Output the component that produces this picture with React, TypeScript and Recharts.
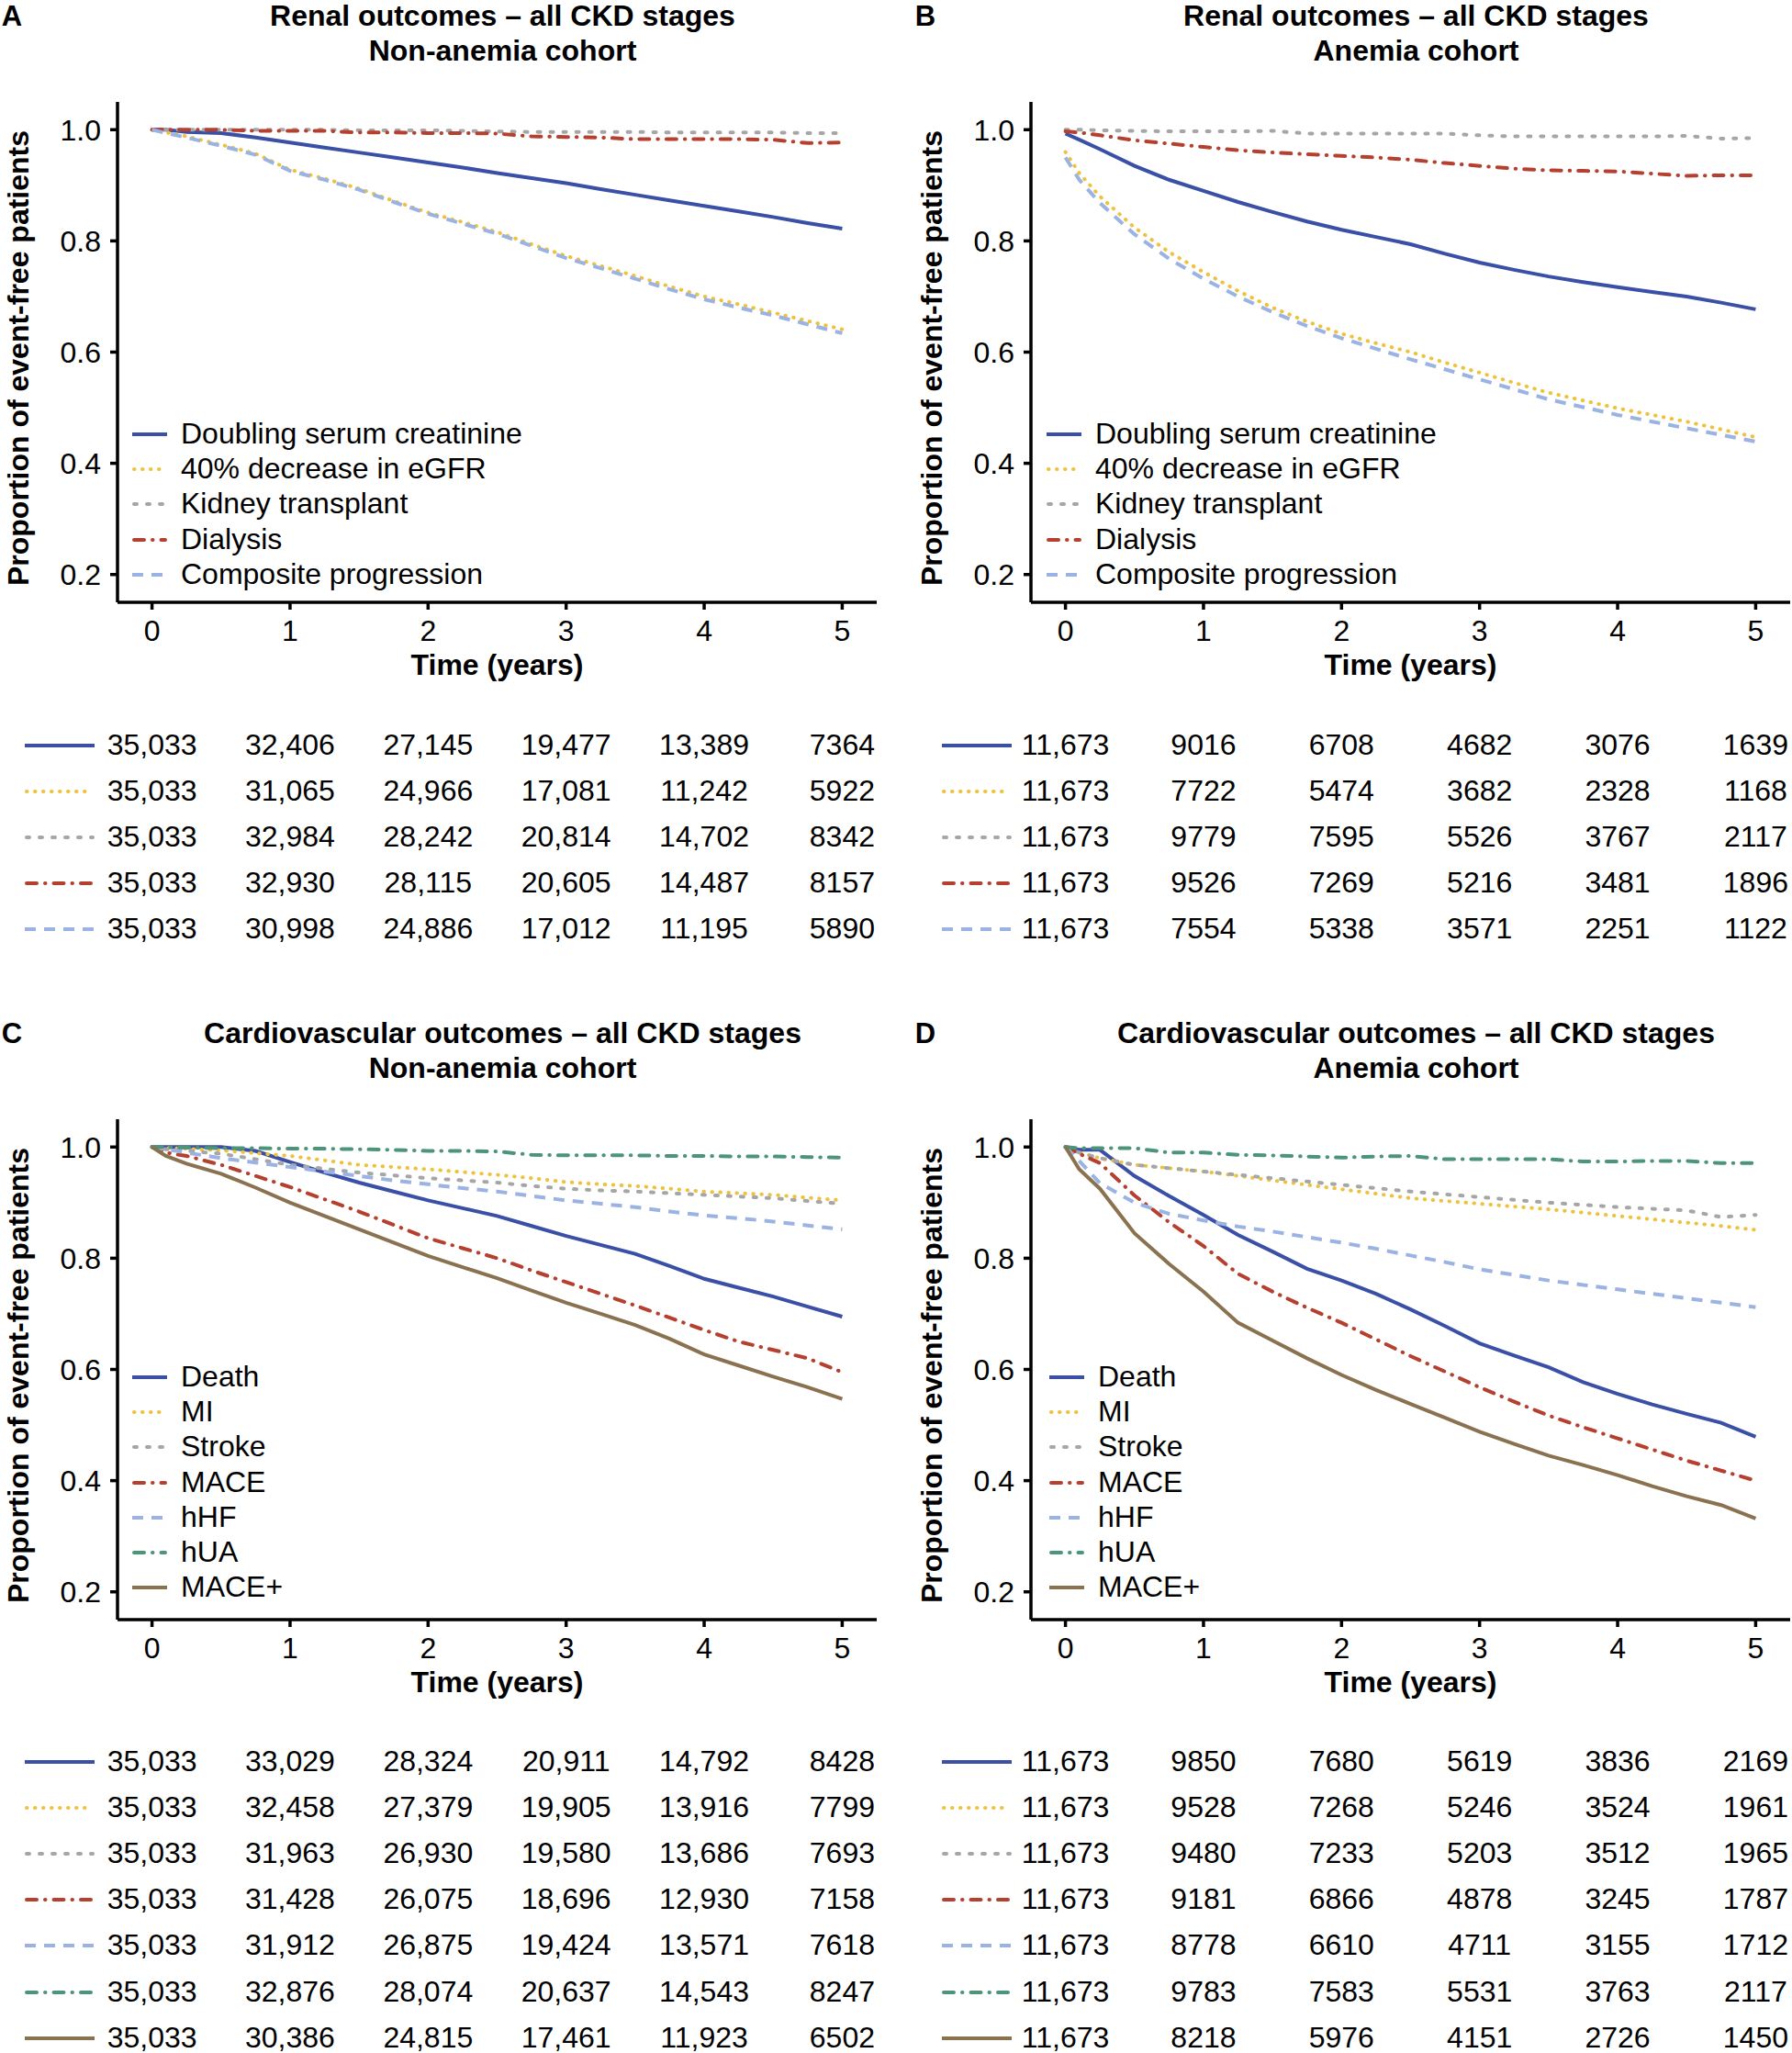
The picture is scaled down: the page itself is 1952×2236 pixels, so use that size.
import { LineChart, Line, XAxis, YAxis } from 'recharts'

const FONT = '"Liberation Sans", Arial, Helvetica, sans-serif'

// common time grid (years) at which the KM curves were read
const timeGrid = [0, 0.1, 0.25, 0.5, 0.75, 1, 1.25, 1.5, 1.75, 2, 2.25, 2.5, 2.75, 3, 3.25, 3.5, 3.75, 4, 4.25, 4.5, 4.75, 5]
const xTicks = [0, 1, 2, 3, 4, 5]
const yTicks = [0.2, 0.4, 0.6, 0.8, 1.0]

const renalLabels = ['Doubling serum creatinine', '40% decrease in eGFR', 'Kidney transplant', 'Dialysis', 'Composite progression']
const cvLabels = ['Death', 'MI', 'Stroke', 'MACE', 'hHF', 'hUA', 'MACE+']

// A - renal, non-anemia
const aDoubling = [1.0, 1.0, 0.996, 0.994, 0.986, 0.977, 0.968, 0.959, 0.95, 0.941, 0.932, 0.922, 0.913, 0.904, 0.893, 0.883, 0.873, 0.863, 0.853, 0.843, 0.832, 0.822]
const aEgfr = [1.0, 0.995, 0.988, 0.973, 0.957, 0.928, 0.912, 0.894, 0.872, 0.851, 0.834, 0.816, 0.794, 0.773, 0.755, 0.737, 0.718, 0.7, 0.686, 0.671, 0.656, 0.641]
const aTransplant = [1, 1, 1, 1, 1, 1, 1, 0.999, 0.999, 0.999, 0.998, 0.997, 0.996, 0.996, 0.996, 0.996, 0.995, 0.995, 0.995, 0.995, 0.994, 0.994]
const aDialysis = [1, 1, 1, 1, 0.998, 0.998, 0.998, 0.995, 0.995, 0.994, 0.994, 0.993, 0.988, 0.987, 0.986, 0.983, 0.983, 0.983, 0.983, 0.982, 0.976, 0.977]
const aComposite = [1.0, 0.994, 0.986, 0.971, 0.955, 0.926, 0.91, 0.892, 0.87, 0.849, 0.831, 0.813, 0.791, 0.769, 0.751, 0.732, 0.713, 0.695, 0.68, 0.666, 0.65, 0.634]

// B - renal, anemia
const bDoubling = [0.993, 0.982, 0.965, 0.935, 0.91, 0.89, 0.87, 0.852, 0.835, 0.82, 0.807, 0.794, 0.777, 0.761, 0.748, 0.736, 0.726, 0.717, 0.708, 0.7, 0.689, 0.677]
const bEgfr = [0.96, 0.922, 0.88, 0.824, 0.78, 0.744, 0.71, 0.68, 0.655, 0.633, 0.616, 0.6, 0.581, 0.563, 0.545, 0.527, 0.513, 0.499, 0.487, 0.475, 0.461, 0.447]
const bTransplant = [1.0, 1.0, 0.999, 0.998, 0.997, 0.997, 0.997, 0.998, 0.993, 0.993, 0.993, 0.993, 0.993, 0.99, 0.988, 0.988, 0.988, 0.988, 0.988, 0.989, 0.984, 0.985]
const bDialysis = [0.997, 0.995, 0.99, 0.981, 0.975, 0.969, 0.963, 0.959, 0.956, 0.953, 0.95, 0.946, 0.94, 0.935, 0.93, 0.927, 0.926, 0.925, 0.921, 0.917, 0.918, 0.918]
const bComposite = [0.95, 0.91, 0.868, 0.812, 0.768, 0.732, 0.7, 0.672, 0.647, 0.625, 0.606, 0.587, 0.569, 0.551, 0.533, 0.515, 0.501, 0.487, 0.475, 0.463, 0.451, 0.439]

// C - cardiovascular, non-anemia
const cDeath = [1.0, 1.0, 1.0, 1.0, 0.993, 0.973, 0.954, 0.936, 0.92, 0.904, 0.89, 0.876, 0.858, 0.84, 0.824, 0.808, 0.786, 0.763, 0.747, 0.731, 0.713, 0.695]
const cMi = [1.0, 0.998, 0.997, 0.994, 0.989, 0.984, 0.976, 0.968, 0.964, 0.96, 0.955, 0.95, 0.944, 0.937, 0.933, 0.93, 0.925, 0.92, 0.917, 0.914, 0.909, 0.904]
const cStroke = [1.0, 0.996, 0.993, 0.988, 0.978, 0.968, 0.961, 0.954, 0.949, 0.944, 0.94, 0.936, 0.93, 0.925, 0.922, 0.92, 0.917, 0.914, 0.911, 0.908, 0.903, 0.898]
const cMace = [1.0, 0.99, 0.984, 0.968, 0.948, 0.928, 0.906, 0.884, 0.86, 0.836, 0.818, 0.8, 0.778, 0.757, 0.736, 0.715, 0.693, 0.671, 0.65, 0.635, 0.62, 0.595]
const cHhf = [1.0, 0.996, 0.99, 0.98, 0.972, 0.964, 0.956, 0.948, 0.94, 0.933, 0.926, 0.92, 0.912, 0.904, 0.898, 0.892, 0.884, 0.877, 0.872, 0.866, 0.859, 0.852]
const cHua = [1.0, 1.0, 0.999, 0.998, 0.998, 0.997, 0.997, 0.996, 0.995, 0.993, 0.993, 0.992, 0.986, 0.985, 0.985, 0.985, 0.984, 0.984, 0.983, 0.983, 0.982, 0.981]
const cMacePlus = [1.0, 0.984, 0.97, 0.952, 0.927, 0.9, 0.876, 0.852, 0.828, 0.804, 0.784, 0.764, 0.742, 0.72, 0.7, 0.68, 0.655, 0.627, 0.607, 0.587, 0.568, 0.547]

// D - cardiovascular, anemia
const dDeath = [1.0, 0.995, 0.995, 0.948, 0.912, 0.878, 0.842, 0.812, 0.781, 0.76, 0.736, 0.708, 0.678, 0.647, 0.625, 0.604, 0.577, 0.556, 0.537, 0.52, 0.504, 0.479]
const dMi = [1.0, 0.99, 0.98, 0.968, 0.962, 0.956, 0.948, 0.94, 0.932, 0.924, 0.916, 0.908, 0.903, 0.898, 0.893, 0.888, 0.882, 0.876, 0.87, 0.864, 0.858, 0.851]
const dStroke = [1.0, 0.99, 0.98, 0.968, 0.962, 0.956, 0.95, 0.944, 0.938, 0.932, 0.926, 0.92, 0.915, 0.91, 0.905, 0.9, 0.896, 0.892, 0.889, 0.886, 0.874, 0.878]
const dMace = [1.0, 0.988, 0.971, 0.913, 0.865, 0.822, 0.772, 0.74, 0.711, 0.684, 0.654, 0.624, 0.596, 0.568, 0.542, 0.517, 0.496, 0.476, 0.456, 0.436, 0.418, 0.4]
const dHhf = [1.0, 0.975, 0.935, 0.9, 0.88, 0.868, 0.857, 0.848, 0.838, 0.828, 0.817, 0.805, 0.793, 0.78, 0.77, 0.76, 0.752, 0.744, 0.736, 0.728, 0.72, 0.712]
const dHua = [1.0, 0.998, 0.998, 0.998, 0.99, 0.99, 0.986, 0.985, 0.983, 0.981, 0.983, 0.984, 0.978, 0.978, 0.978, 0.978, 0.974, 0.974, 0.975, 0.975, 0.971, 0.971]
const dMacePlus = [1.0, 0.96, 0.925, 0.845, 0.79, 0.74, 0.684, 0.652, 0.62, 0.59, 0.563, 0.538, 0.513, 0.488, 0.466, 0.445, 0.428, 0.41, 0.39, 0.372, 0.356, 0.332]

// numbers at risk at years 0..5
const riskA = [
  [35033, 32406, 27145, 19477, 13389, 7364],
  [35033, 31065, 24966, 17081, 11242, 5922],
  [35033, 32984, 28242, 20814, 14702, 8342],
  [35033, 32930, 28115, 20605, 14487, 8157],
  [35033, 30998, 24886, 17012, 11195, 5890],
]
const riskB = [
  [11673, 9016, 6708, 4682, 3076, 1639],
  [11673, 7722, 5474, 3682, 2328, 1168],
  [11673, 9779, 7595, 5526, 3767, 2117],
  [11673, 9526, 7269, 5216, 3481, 1896],
  [11673, 7554, 5338, 3571, 2251, 1122],
]
const riskC = [
  [35033, 33029, 28324, 20911, 14792, 8428],
  [35033, 32458, 27379, 19905, 13916, 7799],
  [35033, 31963, 26930, 19580, 13686, 7693],
  [35033, 31428, 26075, 18696, 12930, 7158],
  [35033, 31912, 26875, 19424, 13571, 7618],
  [35033, 32876, 28074, 20637, 14543, 8247],
  [35033, 30386, 24815, 17461, 11923, 6502],
]
const riskD = [
  [11673, 9850, 7680, 5619, 3836, 2169],
  [11673, 9528, 7268, 5246, 3524, 1961],
  [11673, 9480, 7233, 5203, 3512, 1965],
  [11673, 9181, 6866, 4878, 3245, 1787],
  [11673, 8778, 6610, 4711, 3155, 1712],
  [11673, 9783, 7583, 5531, 3763, 2117],
  [11673, 8218, 5976, 4151, 2726, 1450],
]

type LineStyle = { color: string; dash?: string; cap: 'butt' | 'round' }
const sBlue: LineStyle = { color: '#3a4fa6', cap: 'butt' }
const sYellow: LineStyle = { color: '#efc23e', dash: '0.5 8.5', cap: 'round' }
const sGray: LineStyle = { color: '#a6a6a6', dash: '3 11', cap: 'round' }
const sRed: LineStyle = { color: '#b5402f', dash: '11 9 0.5 9', cap: 'round' }
const sLightBlue: LineStyle = { color: '#9bb3e2', dash: '12 9', cap: 'butt' }
const sGreen: LineStyle = { color: '#4c9579', dash: '11 9 0.5 9', cap: 'round' }
const sBrown: LineStyle = { color: '#8a7250', cap: 'butt' }

const renalStyles = [sBlue, sYellow, sGray, sRed, sLightBlue]
const cvStyles = [sBlue, sYellow, sGray, sRed, sLightBlue, sGreen, sBrown]

const LW = 4
const PLOT_W = 827
const PLOT_H = 545
const X_DOMAIN: [number, number] = [-0.25, 5.25]
const Y_DOMAIN: [number, number] = [0.15, 1.05]

const fmt = (n: number) => (n >= 10000 ? n.toLocaleString('en-US') : String(n))

function Txt({ x, y, text, bold = false, size = 32, anchor = 'middle' }: { x: number; y: number; text: string; bold?: boolean; size?: number; anchor?: 'middle' | 'start' }) {
  return (
    <div
      style={{
        position: 'absolute',
        left: x,
        top: y,
        transform: anchor === 'middle' ? 'translate(-50%,-50%)' : 'translate(0,-50%)',
        fontSize: size,
        fontWeight: bold ? 700 : 400,
        lineHeight: 0.85,
        whiteSpace: 'nowrap',
        fontFamily: FONT,
        color: '#000',
      }}
    >
      {text}
    </div>
  )
}

function Sample({ x, y, w, st }: { x: number; y: number; w: number; st: LineStyle }) {
  return (
    <svg style={{ position: 'absolute', left: x, top: y - 6 }} width={w} height={12}>
      <line x1={st.cap === 'round' ? 2 : 0} x2={st.cap === 'round' ? w - 2 : w} y1={6} y2={6} stroke={st.color} strokeWidth={LW} strokeDasharray={st.dash} strokeLinecap={st.cap} />
    </svg>
  )
}

interface PanelProps {
  letter: string
  title1: string
  title2: string
  plotLeft: number
  plotTop: number
  series: number[][]
  labels: string[]
  styles: LineStyle[]
  risk: number[][]
  legendTop: number
  sampleX: number
  textX: number
  tableTop: number
  tableSampleX: number
}

function Panel(p: PanelProps) {
  const data = timeGrid.map((t, i) => {
    const row: Record<string, number> = { t }
    p.series.forEach((s, k) => (row['s' + k] = s[i]))
    return row
  })
  const xPix = (t: number) => p.plotLeft + ((t - X_DOMAIN[0]) / (X_DOMAIN[1] - X_DOMAIN[0])) * PLOT_W
  const cx = p.plotLeft + PLOT_W / 2
  const axisStyle = { stroke: '#000', strokeWidth: 3.5 }
  const tickStyle = { fontSize: 32, fill: '#000', fontFamily: FONT }
  return (
    <>
      <Txt x={p.plotLeft - 115} y={p.plotTop - 93} text={p.letter} bold size={31} />
      <Txt x={cx + 6} y={p.plotTop - 93} text={p.title1} bold />
      <Txt x={cx + 6} y={p.plotTop - 55} text={p.title2} bold />
      <div
        style={{
          position: 'absolute',
          left: p.plotLeft - 108,
          top: p.plotTop + 279,
          transform: 'translate(-50%,-50%) rotate(-90deg)',
          fontSize: 32,
          fontWeight: 700,
          lineHeight: 1,
          whiteSpace: 'nowrap',
          fontFamily: FONT,
        }}
      >
        Proportion of event-free patients
      </div>
      <div style={{ position: 'absolute', left: p.plotLeft - 80, top: p.plotTop - 20 }}>
        <LineChart width={PLOT_W + 100} height={PLOT_H + 80} data={data} margin={{ top: 20, right: 20, left: 20, bottom: 20 }}>
          <XAxis
            type="number"
            dataKey="t"
            domain={X_DOMAIN}
            ticks={xTicks}
            allowDataOverflow
            height={40}
            tickSize={8}
            tickMargin={11}
            axisLine={axisStyle}
            tickLine={axisStyle}
            tick={tickStyle}
          />
          <YAxis
            type="number"
            domain={Y_DOMAIN}
            ticks={yTicks}
            allowDataOverflow
            width={60}
            tickSize={8}
            tickMargin={10}
            axisLine={axisStyle}
            tickLine={axisStyle}
            tick={tickStyle}
            tickFormatter={(v: number) => v.toFixed(1)}
          />
          {p.series.map((_, k) => (
            <Line
              key={k}
              type="linear"
              dataKey={'s' + k}
              stroke={p.styles[k].color}
              strokeWidth={LW}
              strokeDasharray={p.styles[k].dash}
              strokeLinecap={p.styles[k].cap}
              dot={false}
              activeDot={false}
              isAnimationActive={false}
            />
          ))}
        </LineChart>
      </div>
      <Txt x={cx} y={p.plotTop + PLOT_H + 69} text="Time (years)" bold />
      {p.labels.map((lab, k) => (
        <div key={'lg' + k}>
          <Sample x={p.sampleX} y={p.legendTop + k * 38.2} w={38} st={p.styles[k]} />
          <Txt x={p.textX} y={p.legendTop + k * 38.2} text={lab} anchor="start" />
        </div>
      ))}
      {p.risk.map((row, k) => (
        <div key={'rk' + k}>
          <Sample x={p.tableSampleX} y={p.tableTop + k * 50.1} w={76} st={p.styles[k]} />
          {row.map((n, j) => (
            <Txt key={j} x={xPix(xTicks[j])} y={p.tableTop + k * 50.1} text={fmt(n)} />
          ))}
        </div>
      ))}
    </>
  )
}

export default function App() {
  return (
    <div style={{ position: 'absolute', left: 0, top: 0, width: 1952, height: 2236, background: '#fff', overflow: 'hidden', fontFamily: FONT }}>
      <Panel
        letter="A"
        title1="Renal outcomes – all CKD stages"
        title2="Non-anemia cohort"
        plotLeft={128}
        plotTop={111}
        series={[aDoubling, aEgfr, aTransplant, aDialysis, aComposite]}
        labels={renalLabels}
        styles={renalStyles}
        risk={riskA}
        legendTop={473}
        sampleX={144}
        textX={197}
        tableTop={812}
        tableSampleX={27}
      />
      <Panel
        letter="B"
        title1="Renal outcomes – all CKD stages"
        title2="Anemia cohort"
        plotLeft={1123}
        plotTop={111}
        series={[bDoubling, bEgfr, bTransplant, bDialysis, bComposite]}
        labels={renalLabels}
        styles={renalStyles}
        risk={riskB}
        legendTop={473}
        sampleX={1140}
        textX={1193}
        tableTop={812}
        tableSampleX={1026}
      />
      <Panel
        letter="C"
        title1="Cardiovascular outcomes – all CKD stages"
        title2="Non-anemia cohort"
        plotLeft={128}
        plotTop={1219}
        series={[cDeath, cMi, cStroke, cMace, cHhf, cHua, cMacePlus]}
        labels={cvLabels}
        styles={cvStyles}
        risk={riskC}
        legendTop={1500}
        sampleX={144}
        textX={197}
        tableTop={1919}
        tableSampleX={27}
      />
      <Panel
        letter="D"
        title1="Cardiovascular outcomes – all CKD stages"
        title2="Anemia cohort"
        plotLeft={1123}
        plotTop={1219}
        series={[dDeath, dMi, dStroke, dMace, dHhf, dHua, dMacePlus]}
        labels={cvLabels}
        styles={cvStyles}
        risk={riskD}
        legendTop={1500}
        sampleX={1143}
        textX={1196}
        tableTop={1919}
        tableSampleX={1026}
      />
    </div>
  )
}
